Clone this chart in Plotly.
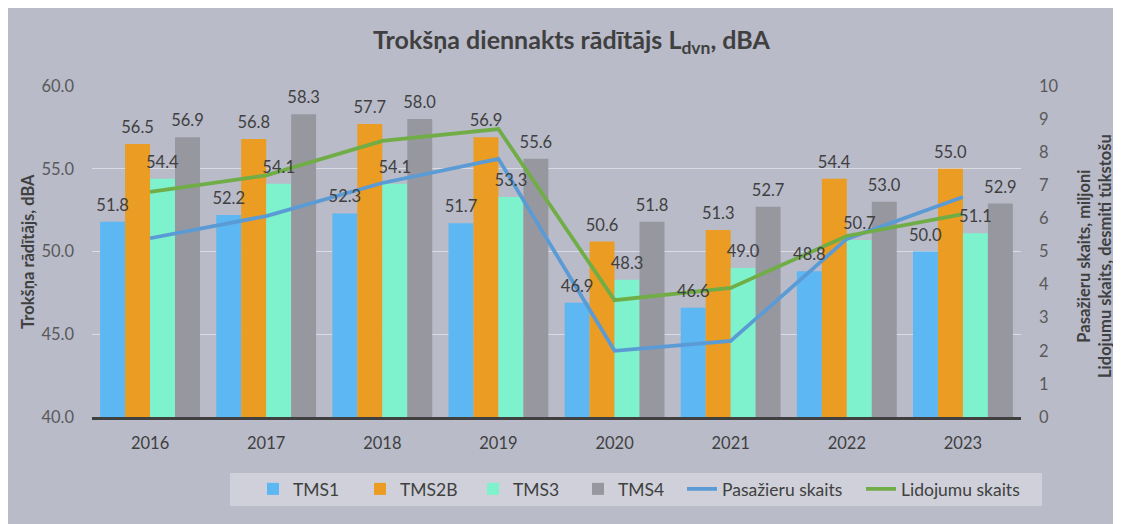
import plotly.graph_objects as go

years = ["2016", "2017", "2018", "2019", "2020", "2021", "2022", "2023"]
tms1 = [51.8, 52.2, 52.3, 51.7, 46.9, 46.6, 48.8, 50.0]
tms2b = [56.5, 56.8, 57.7, 56.9, 50.6, 51.3, 54.4, 55.0]
tms3 = [54.4, 54.1, 54.1, 53.3, 48.3, 49.0, 50.7, 51.1]
tms4 = [56.9, 58.3, 58.0, 55.6, 51.8, 52.7, 53.0, 52.9]
pasazieri = [5.4, 6.07, 7.07, 7.8, 2.0, 2.3, 5.38, 6.65]
lidojumi = [6.8, 7.3, 8.34, 8.7, 3.53, 3.9, 5.47, 6.13]

FONT = "Lato"
TXT = "#404040"
BG = "#B9BBC9"

# page body has an 8px margin; figure coordinates = page coordinates - 8
OFF = 8
W, H = 1121 - OFF, 524 - OFF
L, R, T, B = 92 - OFF, W - (1021 - OFF), 86 - OFF, H - (417 - OFF)
pw = W - L - R
ph = H - T - B


def px_x(page_x):
    return (page_x - OFF - L) / pw


def px_y(page_y):
    return (H - B - (page_y - OFF)) / ph


fig = go.Figure()
bar_series = [("TMS1", tms1, "#5DB7F2", 62), ("TMS2B", tms2b, "#EB9C22", 68),
              ("TMS3", tms3, "#7DF2CC", 60), ("TMS4", tms4, "#97979F", 60)]
for name, vals, col, lw in bar_series:
    fig.add_trace(go.Bar(
        x=years, y=vals, name=name, marker=dict(color=col, line=dict(width=0)),
        yaxis="y", legend="legend", legendwidth=lw))

fig.add_trace(go.Scatter(x=years, y=pasazieri, name="Pasažieru skaits", mode="lines",
                         line=dict(color="#5B9BD5", width=3.75), yaxis="y2",
                         legend="legend2", legendwidth=134))
fig.add_trace(go.Scatter(x=years, y=lidojumi, name="Lidojumu skaits", mode="lines",
                         line=dict(color="#70AD47", width=3.75), yaxis="y2",
                         legend="legend2", legendwidth=125))

# data labels: transparent copies of the bars on an overlaying axis drawn on top
for name, vals, col, lw in bar_series:
    fig.add_trace(go.Bar(
        x=years, y=vals, name=name + " labels", showlegend=False, hoverinfo="skip",
        marker=dict(color="rgba(0,0,0,0)", line=dict(width=0)),
        text=[f"{v:.1f}" for v in vals], textposition="outside",
        textfont=dict(family=FONT, size=16.5, color=TXT),
        constraintext="none", cliponaxis=False, yaxis="y3"))

legend_font = dict(family=FONT, size=17.5, color=TXT)
label_lift = 4 / ph * 20  # lift labels ~4px above the bars

fig.update_layout(
    width=W, height=H,
    margin=dict(l=L, r=R, t=T, b=B),
    paper_bgcolor=BG, plot_bgcolor=BG,
    font=dict(family=FONT, color=TXT, size=16.5),
    barmode="group", bargap=0.14, bargroupgap=0,
    title=dict(text="<b>Trokšņa diennakts rādītājs L<sub>dvn</sub>, dBA</b>",
               x=(571.5 - OFF) / W, xanchor="center", y=1 - (40 - OFF) / H, yanchor="middle",
               font=dict(family=FONT, size=25, color=TXT)),
    xaxis=dict(showline=True, linecolor="#404040", linewidth=2.5, ticks="",
               tickfont=dict(family=FONT, size=16.5, color=TXT), ticklabelstandoff=9,
               showgrid=False),
    yaxis=dict(range=[40, 60], dtick=5, tickformat=".1f", showgrid=True,
               gridcolor="#DADBE3", gridwidth=1, zeroline=False,
               tickfont=dict(family=FONT, size=16.5, color="#595959"), ticklabelstandoff=17),
    yaxis2=dict(range=[0, 10], dtick=1, overlaying="y", side="right", showgrid=False,
                zeroline=False, tickfont=dict(family=FONT, size=16.5, color="#595959"),
                ticklabelstandoff=17),
    yaxis3=dict(range=[40 - label_lift, 60 - label_lift], overlaying="y", visible=False,
                showgrid=False, zeroline=False),
    legend=dict(orientation="h", x=px_x(253), xanchor="left", y=px_y(489), yanchor="middle",
                bgcolor="rgba(0,0,0,0)", borderwidth=0, font=legend_font,
                itemwidth=30, traceorder="normal"),
    legend2=dict(orientation="h", x=px_x(682), xanchor="left", y=px_y(489), yanchor="middle",
                 bgcolor="rgba(0,0,0,0)", borderwidth=0, font=legend_font,
                 itemwidth=30, traceorder="normal"),
    showlegend=True,
    annotations=[
        dict(text="<b>Trokšņa rādītājs, dBA</b>", textangle=-90, xref="paper", yref="paper",
             x=px_x(28), y=px_y(252), showarrow=False, xanchor="center", yanchor="middle",
             font=dict(family=FONT, size=16.5, color=TXT)),
        dict(text="<b>Pasažieru skaits, miljoni<br>Lidojumu skaits, desmiti tūkstošu</b>",
             textangle=-90, xref="paper", yref="paper",
             x=px_x(1095), y=px_y(256), showarrow=False, xanchor="center", yanchor="middle",
             font=dict(family=FONT, size=16.5, color=TXT)),
    ],
    shapes=[
        dict(type="rect", xref="paper", yref="paper", x0=px_x(230), x1=px_x(1042),
             y0=px_y(506), y1=px_y(473), fillcolor="#CFD0D9", line=dict(width=0), layer="below"),
    ],
)

fig.write_html("out.html")
